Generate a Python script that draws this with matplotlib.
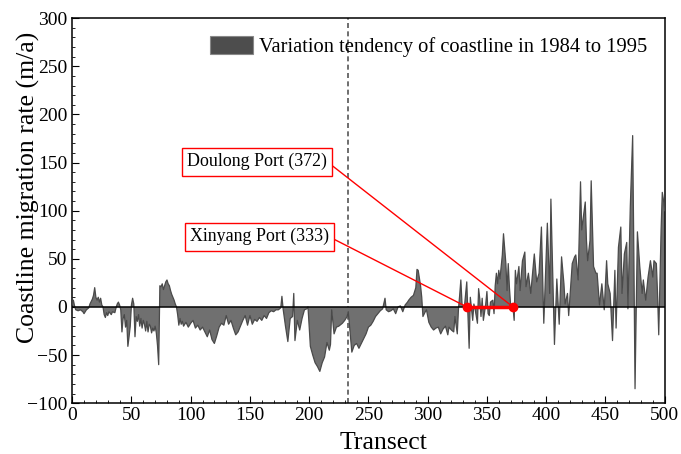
import matplotlib
matplotlib.use("Agg")
import matplotlib.pyplot as plt
from matplotlib.patches import Patch
from matplotlib.ticker import MultipleLocator

# transect number and coastline migration rate (m/a)
transect = [
    0, 1, 2, 3, 5, 7, 9, 10, 12, 14, 15, 17, 18, 19, 20, 21, 22, 23, 24, 25,
    26, 27, 28, 29, 30, 31, 33, 34, 36, 37, 38, 39, 40, 41, 42, 43, 44, 45, 46, 47,
    48, 49, 50, 51, 52, 53, 54, 55, 56, 57, 58, 59, 60, 61, 62, 63, 64, 65, 66, 67,
    68, 69, 70, 71, 72, 73, 74, 75, 76, 77, 78, 79, 80, 81, 82, 83, 84, 85, 86, 87,
    88, 89, 90, 91, 92, 93, 94, 96, 98, 100, 102, 104, 106, 108, 110, 112, 114, 116, 118, 120,
    122, 124, 126, 128, 130, 132, 134, 136, 138, 140, 142, 144, 146, 148, 150, 152, 154, 156, 158, 160,
    162, 164, 166, 168, 170, 172, 174, 176, 177, 178, 180, 182, 184, 186, 187, 188, 190, 192, 194, 196,
    198, 199, 201, 203, 205, 207, 209, 211, 213, 215, 217, 218, 219, 221, 223, 225, 228, 230, 232, 233,
    234, 236, 238, 240, 242, 244, 246, 248, 250, 252, 254, 256, 258, 260, 262, 264, 265, 267, 269, 271,
    273, 275, 277, 279, 281, 283, 284, 286, 288, 290, 291, 292, 293, 294, 295, 296, 298, 299, 301, 303,
    305, 307, 309, 311, 313, 315, 317, 318, 320, 322, 323, 325, 326, 327, 328, 329, 331, 333, 334, 335,
    336, 338, 339, 340, 342, 343, 344, 345, 346, 347, 349, 350, 351, 352, 353, 355, 356, 357, 358, 359,
    360, 361, 363, 364, 366, 367, 368, 369, 370, 371, 372, 373, 374, 375, 377, 378, 380, 382, 383, 385,
    387, 390, 392, 394, 396, 398, 401, 403, 404, 406, 407, 409, 411, 413, 415, 416, 418, 419, 422, 424,
    425, 427, 429, 430, 433, 434, 435, 437, 438, 440, 442, 443, 445, 447, 449, 451, 452, 454, 456, 458,
    459, 461, 463, 464, 466, 468, 469, 471, 473, 474, 475, 477, 479, 481, 482, 484, 486, 488, 490, 491,
    493, 494, 495, 497, 498, 499, 500,
]
rate = [
    2, 7, 1, -3, -4, -3, -5, -7, -3, -1, 3, 8, 12, 20, 10, 7, 10, 5, 9, 2,
    0, -8, -11, -6, -9, -5, -8, -5, -6, -1, 3, 5, 2, -3, -26, -12, -8, -21, -14, -41,
    -31, -20, 2, 9, 3, -31, -10, -15, -8, -20, -12, -22, -14, -18, -25, -15, -26, -18, -20, -27,
    -22, -25, -20, -27, -40, -60, 22, 21, 24, 18, 22, 26, 28, 24, 22, 17, 13, 10, 7, 3,
    0, -8, -19, -12, -18, -15, -20, -16, -21, -17, -14, -22, -19, -24, -21, -26, -31, -24, -34, -38,
    -30, -21, -17, -19, -9, -18, -14, -22, -29, -26, -20, -14, -9, -19, -9, -18, -13, -15, -11, -14,
    -9, -12, -6, -4, -5, -3, -3, -1, 11, -2, -20, -36, -12, -10, 14, -35, -14, -24, -12, -3,
    -2, 0, -41, -50, -58, -62, -67, -58, -52, -37, -45, -39, -3, -28, -21, -20, -17, -14, -10, -5,
    -19, -47, -40, -38, -43, -38, -33, -28, -21, -19, -15, -10, -7, -4, -2, 9, -3, -5, -4, -2,
    -7, 0, 1, -5, 2, 5, 7, 10, 12, 20, 39, 38, 30, 22, 10, -10, -5, -3, -16, -21,
    -24, -22, -21, -28, -23, -20, -29, -21, -24, -26, -10, -28, -2, 12, 28, 3, 0, 26, -10, -43,
    10, -14, 3, -2, -17, 19, 8, -10, 9, -14, 3, 16, -7, -9, 5, 7, -7, 22, 35, 24,
    38, 29, 54, 76, 45, 17, 45, 20, 2, 0, 0, -14, 38, 24, 42, 17, 48, 57, 21, 35,
    14, 55, 26, 35, 83, -17, 87, 14, 112, 10, -39, 29, -18, 52, 24, 3, 14, -9, 45, 52,
    54, 28, 130, 80, 109, 69, 48, 69, 131, 42, 35, 35, 2, 24, -3, 48, 24, 14, -35, 38,
    -22, 62, 83, 14, 55, 67, -2, 104, 178, 55, -85, 78, 42, 14, 28, 7, 31, 48, 31, 48,
    45, 14, -29, 80, 119, 111, 100,
]

port_names = ["Xinyang Port", "Doulong Port"]
port_transect = [333, 372]
label_pos = [(158, 73), (156, 151)]

plt.rcParams.update({
    "font.family": ["Liberation Serif", "DejaVu Serif"],
    "font.size": 14,
    "xtick.direction": "in",
    "ytick.direction": "in",
    "xtick.major.size": 5,
    "ytick.major.size": 5,
    "xtick.minor.size": 2.5,
    "ytick.minor.size": 2.5,
})

fig = plt.figure(figsize=(6.81, 4.54), dpi=100)
ax = fig.add_axes([0.106, 0.112, 0.870, 0.848])

ax.fill_between(transect, rate, 0, facecolor="#707070", edgecolor="none", zorder=2)
ax.plot(transect, rate, color="#4a4a4a", lw=0.9, zorder=3)
ax.axhline(0, color="black", lw=1.1, zorder=4)
ax.axvline(233, color="#555555", ls=(0, (3, 2)), lw=1.2, zorder=1)

ax.plot(port_transect, [0, 0], color="red", lw=2.5, marker="o", ms=6, zorder=5)
for name, t, (lx, ly) in zip(port_names, port_transect, label_pos):
    ax.annotate(
        f"{name} ({t})", xy=(t, 0), xytext=(lx, ly),
        ha="center", va="center", fontsize=12.9,
        bbox=dict(boxstyle="square,pad=0.3", fc="white", ec="red", lw=1),
        arrowprops=dict(arrowstyle="-", color="red", lw=1, relpos=(1, 0.5),
                        shrinkA=0, shrinkB=0),
        zorder=6,
    )

ax.set_xlim(0, 500)
ax.set_ylim(-100, 300)
ax.xaxis.set_major_locator(MultipleLocator(50))
ax.xaxis.set_minor_locator(MultipleLocator(10))
ax.yaxis.set_major_locator(MultipleLocator(50))
ax.yaxis.set_minor_locator(MultipleLocator(10))
ax.tick_params(which="both", top=False, right=False, labelsize=14)
ax.tick_params(axis="x", pad=3)
for s in ax.spines.values():
    s.set_linewidth(1.1)

ax.set_xlabel("Transect", fontsize=18.5, labelpad=5)
ax.xaxis.set_label_coords(0.526, -0.075)
ax.set_ylabel("Coastline migration rate (m/a)", fontsize=18.5)
ax.yaxis.set_label_coords(-0.054, 0.56)

handle = Patch(facecolor="#4d4d4d", edgecolor="#888888", lw=0.8)
ax.legend([handle], ["Variation tendency of coastline in 1984 to 1995"],
          loc="upper right", bbox_to_anchor=(1.0, 1.0), frameon=False,
          fontsize=14.8, handlelength=2.1, handleheight=1.0,
          handletextpad=0.3, borderaxespad=0.45)

fig.savefig("out.png", dpi=100)
